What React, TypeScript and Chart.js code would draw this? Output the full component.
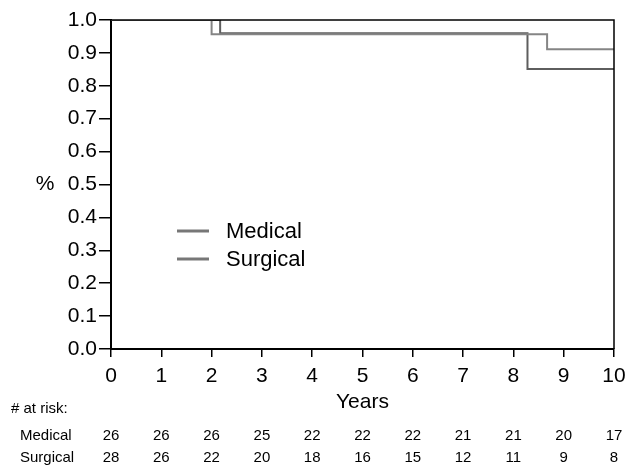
import React, { useEffect, useRef } from "react";
import { Chart, registerables } from "chart.js";

Chart.register(...registerables);

// Kaplan-Meier step points (time in years, survival fraction)
const medicalTimes = [0, 2.0, 8.67, 10];
const medicalSurv = [1.0, 0.957, 0.911, 0.911];
const surgicalTimes = [0, 2.17, 8.28, 10];
const surgicalSurv = [1.0, 0.96, 0.851, 0.851];

const riskYears = [0, 1, 2, 3, 4, 5, 6, 7, 8, 9, 10];
const medicalAtRisk = [26, 26, 26, 25, 22, 22, 22, 21, 21, 20, 17];
const surgicalAtRisk = [28, 26, 22, 20, 18, 16, 15, 12, 11, 9, 8];

const seriesNames = ["Medical", "Surgical"];
const seriesColors = ["#858585", "#5e5e5e"];

const FONT = "'Liberation Sans', Arial, Helvetica, sans-serif";

export default function App() {
  const ref = useRef<HTMLCanvasElement | null>(null);

  useEffect(() => {
    const canvas = ref.current;
    if (!canvas) return;

    const overlay = {
      id: "kmOverlay",
      afterDraw(chart: any) {
        const ctx = chart.ctx;
        const area = chart.chartArea;
        const xs = chart.scales.x;
        const ys = chart.scales.y;
        ctx.save();
        // frame top and right
        ctx.strokeStyle = "#000";
        ctx.lineWidth = 1.5;
        ctx.beginPath();
        ctx.moveTo(area.left, area.top);
        ctx.lineTo(area.right, area.top);
        ctx.lineTo(area.right, area.bottom);
        ctx.stroke();

        ctx.fillStyle = "#000";
        // % label
        ctx.font = `21px ${FONT}`;
        ctx.textAlign = "center";
        ctx.textBaseline = "middle";
        ctx.fillText("%", 45, ys.getPixelForValue(0.5));
        // Years
        ctx.font = `21px ${FONT}`;
        ctx.textBaseline = "alphabetic";
        ctx.fillText("Years", (area.left + area.right) / 2, 408);

        // legend
        ctx.font = `22px ${FONT}`;
        ctx.textAlign = "left";
        const legendY = [231, 259];
        seriesNames.forEach((name, i) => {
          ctx.strokeStyle = "#777";
          ctx.lineWidth = 3;
          ctx.beginPath();
          ctx.moveTo(177, legendY[i]);
          ctx.lineTo(209, legendY[i]);
          ctx.stroke();
          ctx.fillText(name, 226, legendY[i] + 7);
        });

        // at risk table
        ctx.font = `15px ${FONT}`;
        ctx.textAlign = "left";
        ctx.fillText("# at risk:", 11, 413);
        ctx.fillText("Medical", 20, 440);
        ctx.fillText("Surgical", 20, 462);
        ctx.textAlign = "center";
        riskYears.forEach((yr, i) => {
          const px = xs.getPixelForValue(yr);
          ctx.fillText(String(medicalAtRisk[i]), px, 440);
          ctx.fillText(String(surgicalAtRisk[i]), px, 462);
        });
        ctx.restore();
      },
    };

    const chart = new Chart(canvas, {
      type: "line",
      data: {
        datasets: [
          {
            label: seriesNames[0],
            data: medicalTimes.map((t, i) => ({ x: t, y: medicalSurv[i] })),
            borderColor: seriesColors[0],
            borderWidth: 2,
            pointRadius: 0,
            stepped: "before",
            fill: false,
          },
          {
            label: seriesNames[1],
            data: surgicalTimes.map((t, i) => ({ x: t, y: surgicalSurv[i] })),
            borderColor: seriesColors[1],
            borderWidth: 2,
            pointRadius: 0,
            stepped: "before",
            fill: false,
          },
        ],
      },
      options: {
        responsive: false,
        animation: false,
        layout: { padding: { top: 20, right: 12, left: 0, bottom: 0 } },
        plugins: { legend: { display: false }, tooltip: { enabled: false } },
        scales: {
          x: {
            type: "linear",
            min: 0,
            max: 10,
            ticks: {
              stepSize: 1,
              color: "#000",
              font: { family: FONT, size: 21 },
              padding: 7,
              maxRotation: 0,
            },
            grid: {
              drawOnChartArea: false,
              drawTicks: true,
              tickLength: 8,
              color: "#000",
              lineWidth: 1.5,
            },
            border: { display: true, color: "#000", width: 2 },
            afterFit: (s: any) => {
              s.height = 118;
              s.paddingLeft = 0;
              s.paddingRight = 0;
            },
          },
          y: {
            type: "linear",
            min: 0,
            max: 1,
            ticks: {
              stepSize: 0.1,
              color: "#000",
              font: { family: FONT, size: 21 },
              padding: 2,
              callback: (v: any) => Number(v).toFixed(1),
            },
            grid: {
              drawOnChartArea: false,
              drawTicks: true,
              tickLength: 12,
              color: "#000",
              lineWidth: 1.5,
            },
            border: { display: true, color: "#000", width: 2 },
            afterFit: (s: any) => {
              s.width = 111;
              s.paddingTop = 0;
              s.paddingBottom = 0;
            },
          },
        },
      },
      plugins: [overlay],
    });

    return () => chart.destroy();
  }, []);

  return (
    <div style={{ position: "absolute", left: 0, top: 0, width: 626, height: 467, background: "#fff" }}>
      <canvas ref={ref} width={626} height={467} />
    </div>
  );
}
